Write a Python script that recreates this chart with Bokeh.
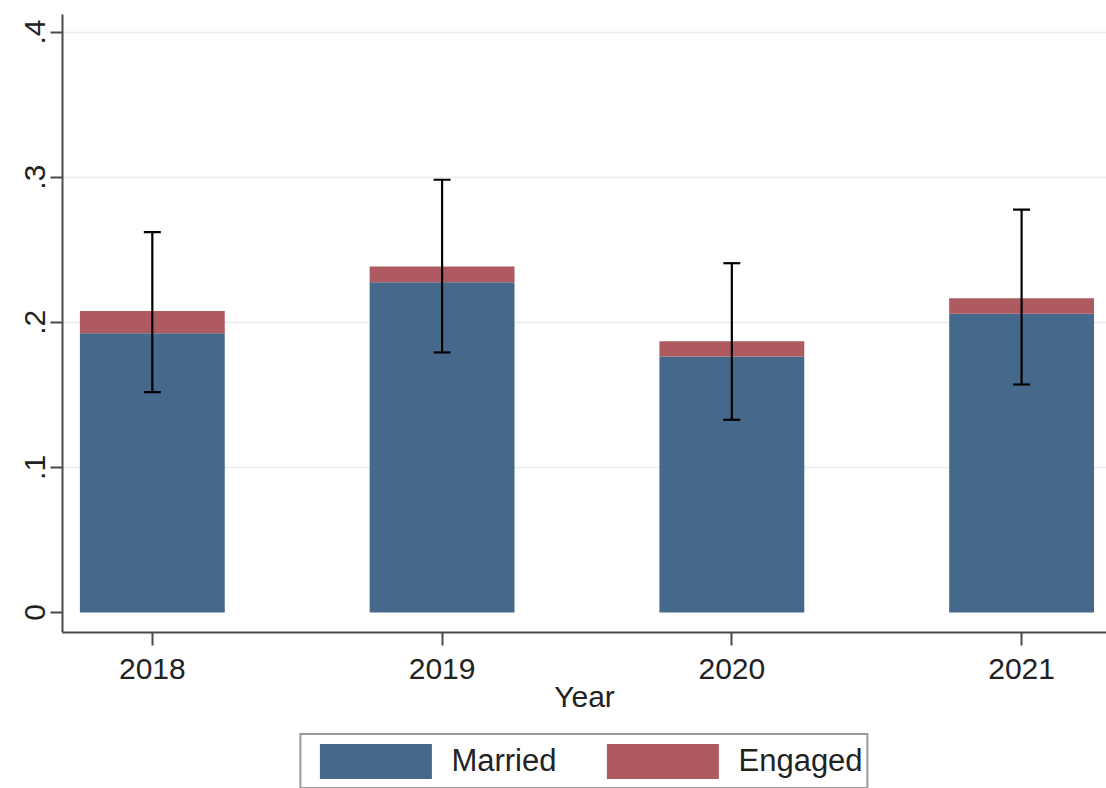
import numpy as np
from bokeh.plotting import figure
from bokeh.layouts import column
from bokeh.models import (ColumnDataSource, Range1d, FixedTicker, Legend, LegendItem,
                          Whisker, TeeHead)
from bokeh.embed import file_html
from bokeh.resources import INLINE

# ---- data ----
years = ["2018", "2019", "2020", "2021"]
married = [0.1925, 0.2276, 0.1764, 0.2059]
engaged = [0.0152, 0.0109, 0.0106, 0.0107]
ci_lower = [0.1518, 0.1792, 0.1328, 0.1571]
ci_upper = [0.2621, 0.2982, 0.2407, 0.2776]
y_ticks = [0, 0.1, 0.2, 0.3, 0.4]
y_tick_labels = ["0", ".1", ".2", ".3", ".4"]
series = ["Married", "Engaged"]

xpos = list(range(1, len(years) + 1))
total = [m + e for m, e in zip(married, engaged)]

src = ColumnDataSource(dict(x=xpos, married=married, engaged=engaged,
                            lower=ci_lower, upper=ci_upper, total=total))

FONT = "Liberation Sans"
BLUE = "#46688A"
RED = "#AE5A60"
AX = "#4a4a4a"

p = figure(frame_width=1044, frame_height=618, output_backend="svg", toolbar_location=None,
           x_range=Range1d(0.69, 4.293), y_range=Range1d(-0.0138, 0.4121),
           min_border_left=62, min_border_right=0, min_border_top=14,
           min_border_bottom=100, background_fill_color="white",
           border_fill_color="white")
p.outline_line_color = None

r = p.vbar_stack(["married", "engaged"], x="x", width=0.5, source=src,
                 color=[BLUE, RED], line_color=None)

w = Whisker(base="x", lower="lower", upper="upper", source=src,
            line_color="black", line_width=2.2, level="overlay",
            upper_head=TeeHead(size=17, line_color="black", line_width=2.2),
            lower_head=TeeHead(size=17, line_color="black", line_width=2.2))
p.add_layout(w)

# x axis
p.xaxis.ticker = FixedTicker(ticks=xpos)
p.xaxis.major_label_overrides = {x: y for x, y in zip(xpos, years)}
p.xaxis.axis_label = "Year"
p.xaxis.axis_label_text_font = FONT
p.xaxis.axis_label_text_font_style = "normal"
p.xaxis.axis_label_text_font_size = "30px"
p.xaxis.axis_label_text_color = "#222222"
p.xaxis.axis_label_standoff = -2
p.xaxis.major_label_text_font = FONT
p.xaxis.major_label_text_font_size = "30px"
p.xaxis.major_label_text_color = "#222222"
p.xaxis.major_label_standoff = 13
p.xaxis.major_tick_out = 13
p.xaxis.major_tick_in = 0
p.xaxis.minor_tick_line_color = None

# y axis
p.yaxis.ticker = FixedTicker(ticks=y_ticks)
p.yaxis.major_label_overrides = {t: l for t, l in zip(y_ticks, y_tick_labels)}
p.yaxis.major_label_orientation = "vertical"
p.yaxis.major_label_text_font = FONT
p.yaxis.major_label_text_font_size = "30px"
p.yaxis.major_label_text_color = "#222222"
p.yaxis.major_label_standoff = 5
p.yaxis.major_tick_out = 12
p.yaxis.major_tick_in = 0
p.yaxis.minor_tick_line_color = None

for ax in (p.xaxis, p.yaxis):
    ax.axis_line_color = AX
    ax.axis_line_width = 2
    ax.major_tick_line_color = AX
    ax.major_tick_line_width = 2

p.xgrid.grid_line_color = None
p.ygrid.ticker = FixedTicker(ticks=[0.1, 0.2, 0.3, 0.4])
p.ygrid.grid_line_color = "#ececec"
p.ygrid.grid_line_width = 1.5

# ---- legend strip (own small figure, below the plot) ----
lg = figure(frame_width=1044, frame_height=56, output_backend="svg", toolbar_location=None,
            x_axis_type=None, y_axis_type=None,
            x_range=Range1d(100, 101), y_range=Range1d(100, 101),
            min_border_left=62, min_border_right=0, min_border_top=0,
            min_border_bottom=0, background_fill_color="white",
            border_fill_color="white")
lg.outline_line_color = None
lg.xgrid.grid_line_color = None
lg.ygrid.grid_line_color = None
lr = lg.vbar_stack(["married", "engaged"], x="x", width=0.5, source=src,
                   color=[BLUE, RED], line_color=None)

legend = Legend(items=[LegendItem(label=series[0], renderers=[lr[0]]),
                       LegendItem(label=series[1], renderers=[lr[1]])],
                orientation="horizontal", location="top_center",
                glyph_width=140, glyph_height=44, label_standoff=6,
                spacing=36, padding=4, margin=1,
                label_text_font=FONT, label_text_font_size="31px",
                label_text_color="#222222",
                border_line_color="#333333", border_line_width=2,
                background_fill_color="white", background_fill_alpha=1)
lg.add_layout(legend, "center")

layout = column(p, lg, spacing=0)
open("out.html", "w").write(file_html(layout, INLINE))
